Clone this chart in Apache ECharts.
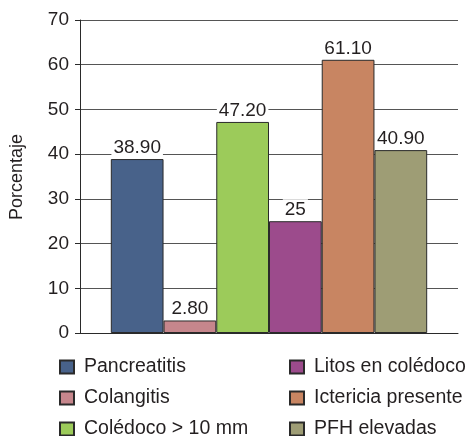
<!DOCTYPE html>
<html>
<head>
<meta charset="utf-8">
<script src="https://cdn.jsdelivr.net/npm/echarts@6/dist/echarts.min.js"></script>
<style>
  html, body { margin: 0; padding: 0; background: #fff; }
  #chart { width: 467px; height: 436px; }
</style>
</head>
<body>
<div id="chart"></div>
<script>
// datos
var names = ['Pancreatitis', 'Colangitis', 'Colédoco > 10 mm', 'Litos en colédoco', 'Ictericia presente', 'PFH elevadas'];
var values = [38.9, 2.8, 47.2, 25, 61.1, 40.9];
var labels = ['38.90', '2.80', '47.20', '25', '61.10', '40.90'];
var colors = ['#48628a', '#c6868c', '#9ccb5a', '#9c4b8c', '#c88562', '#9e9d75'];
var yTitle = 'Porcentaje';

var font = '"Liberation Sans", Arial, sans-serif';
var chart = echarts.init(document.getElementById('chart'));

var series = names.map(function (n, i) {
    return {
        name: n,
        type: 'bar',
        data: [values[i]],
        barGap: 0,
        barCategoryGap: '16.3%',
        itemStyle: { color: colors[i], borderColor: '#2a2a2a', borderWidth: 1 },
        label: {
            show: true,
            position: 'top',
            distance: 2,
            formatter: function () { return labels[i]; },
            color: '#231f20',
            fontSize: 19,
            fontFamily: font,
            backgroundColor: '#fff',
            padding: [1, 2, 0, 2]
        }
    };
});

var legendBase = {
    orient: 'vertical',
    top: 352,
    height: 95,
    itemWidth: 14,
    itemHeight: 13,
    itemGap: 11,
    icon: 'rect',
    textStyle: { fontSize: 19.5, lineHeight: 18, fontFamily: font, color: '#231f20', padding: [0, 0, 0, 5] }
};

var option = {
    animation: false,
    backgroundColor: '#fff',
    grid: { left: 80, right: 9, top: 20, bottom: 103 },
    graphic: [{
        type: 'text',
        x: 17,
        y: 177,
        rotation: Math.PI / 2,
        style: {
            text: yTitle, fontSize: 18, fontFamily: font, fill: '#231f20',
            align: 'center', verticalAlign: 'middle'
        }
    }],
    legend: [
        Object.assign({}, legendBase, { left: 54, data: names.slice(0, 3) }),
        Object.assign({}, legendBase, { left: 284, data: names.slice(3) })
    ],
    xAxis: {
        type: 'category',
        data: [''],
        axisTick: { show: false },
        axisLabel: { show: false },
        axisLine: { lineStyle: { color: '#2a2a2a', width: 1 } }
    },
    yAxis: {
        type: 'value',
        min: 0,
        max: 70,
        interval: 10,
        axisLine: { show: true, lineStyle: { color: '#2a2a2a', width: 1 } },
        axisTick: { show: true, length: 5, lineStyle: { color: '#2a2a2a' } },
        axisLabel: { fontSize: 19, fontFamily: font, color: '#231f20', margin: 11 },
        splitLine: { lineStyle: { color: '#555', width: 1 } }
    },
    series: series
};

chart.setOption(option);
</script>
</body>
</html>
